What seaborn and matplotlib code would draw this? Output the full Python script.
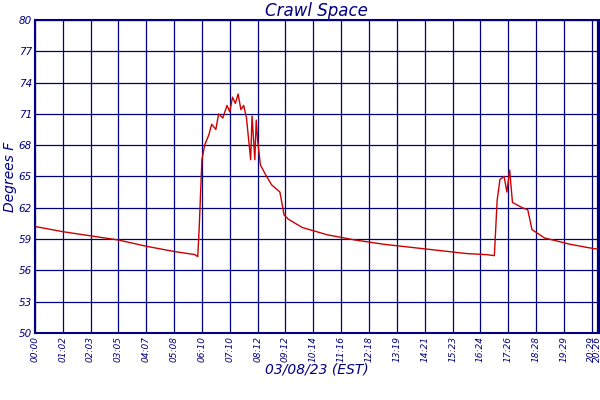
import matplotlib
matplotlib.use('Agg')
import matplotlib.pyplot as plt
import seaborn as sns

sns.set_style('white')
plt.rcParams['font.family'] = ['DejaVu Sans']
navy = '#00007f'

# x in tick-interval units (each ~1 hour), y in degrees F
x_pos = [0.0, 1.0, 2.0, 3.0, 4.0, 5.0, 5.75, 5.85, 5.9, 6.0, 6.1, 6.25, 6.35, 6.5, 6.6, 6.75,
         6.9, 7.0, 7.1, 7.2, 7.3, 7.4, 7.5, 7.6, 7.75, 7.8, 7.9, 7.95, 8.0, 8.1, 8.3, 8.5,
         8.8, 8.95, 9.1, 9.6, 10.5, 11.5, 12.5, 13.5, 14.5, 15.5, 16.2, 16.5, 16.6, 16.7,
         16.85, 16.95, 17.05, 17.15, 17.5, 17.7, 17.85, 18.3, 19.2, 19.8, 20.25]
temps = [60.2, 59.7, 59.3, 58.9, 58.3, 57.8, 57.5, 57.3, 59.9, 66.6, 68.0, 69.0, 70.0, 69.5,
         71.0, 70.6, 71.8, 71.2, 72.6, 72.0, 72.9, 71.4, 71.8, 70.6, 66.6, 70.8, 66.6,
         70.4, 68.5, 66.1, 65.1, 64.2, 63.5, 61.3, 60.9, 60.1, 59.4, 58.9, 58.5, 58.2,
         57.9, 57.6, 57.5, 57.4, 62.7, 64.7, 65.0, 63.5, 65.6, 62.5, 62.0, 61.8, 59.9,
         59.1, 58.5, 58.2, 58.0]
tick_labels = ['00:00', '01:02', '02:03', '03:05', '04:07', '05:08', '06:10', '07:10',
               '08:12', '09:12', '10:14', '11:16', '12:18', '13:19', '14:21', '15:23',
               '16:24', '17:26', '18:28', '19:29', '20:29', '20:26']
tick_pos = list(range(21)) + [20.2]
y_ticks = [50, 53, 56, 59, 62, 65, 68, 71, 74, 77, 80]

fig, ax = plt.subplots(figsize=(6, 4), dpi=100)
sns.lineplot(x=x_pos, y=temps, ax=ax, color='#cc0000', lw=1, label='Crawl Space')
ax.set_xlim(0, 20.25)
ax.set_ylim(50, 80)
ax.set_xticks(tick_pos)
ax.set_xticklabels(tick_labels, rotation=90, fontsize=6.5, color=navy, style='italic')
ax.set_yticks(y_ticks)
ax.set_yticklabels([str(v) for v in y_ticks], fontsize=7.5, color=navy, style='italic')
ax.grid(True, color=navy, lw=0.9)
for s in ax.spines.values():
    s.set_color(navy)
    s.set_linewidth(1.5)
ax.tick_params(length=0, pad=2)
ax.set_title('Crawl Space', color=navy, style='italic', fontsize=12, pad=3)
ax.set_xlabel('03/08/23 (EST)', color=navy, style='italic', fontsize=10, labelpad=1)
ax.set_ylabel('Degrees F', color=navy, style='italic', fontsize=10, labelpad=1)
leg = ax.legend(loc='upper center', bbox_to_anchor=(0.5, -0.205), frameon=False,
                fontsize=8, handlelength=1.5, borderpad=0.1)
for t in leg.get_texts():
    t.set_color(navy)
    t.set_style('italic')
fig.subplots_adjust(left=0.058, right=0.998, top=0.95, bottom=0.168)
fig.savefig('out.png')
